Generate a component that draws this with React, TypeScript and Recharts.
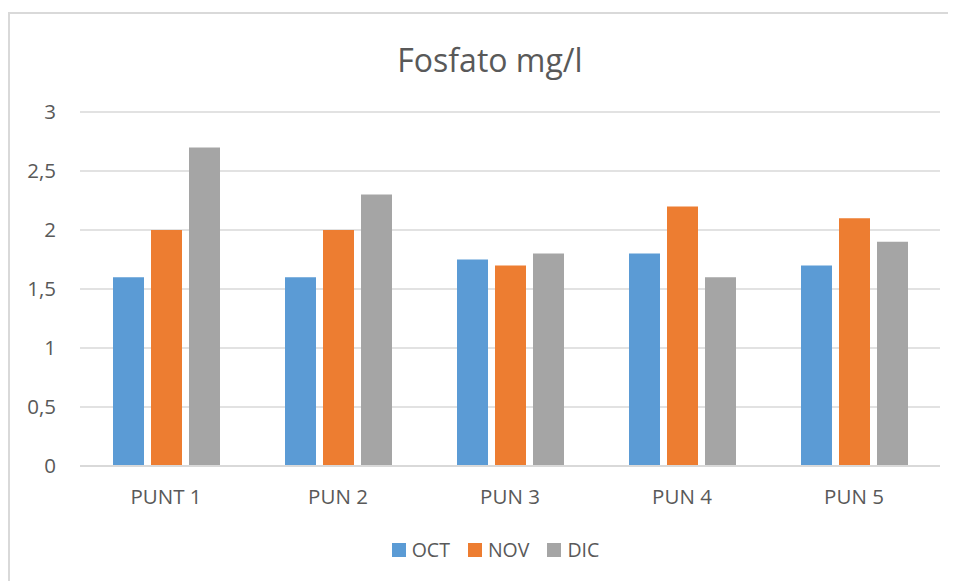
import React, { useLayoutEffect } from 'react';
import { BarChart, Bar, XAxis, YAxis, CartesianGrid, Legend } from 'recharts';

const categories = ['PUNT 1', 'PUN 2', 'PUN 3', 'PUN 4', 'PUN 5'];
const octValues = [1.6, 1.6, 1.75, 1.8, 1.7];
const novValues = [2.0, 2.0, 1.7, 2.2, 2.1];
const dicValues = [2.7, 2.3, 1.8, 1.6, 1.9];
const yTicks = [0, 0.5, 1, 1.5, 2, 2.5, 3];
const seriesNames = ['OCT', 'NOV', 'DIC'];
const seriesColors = ['#5b9bd5', '#ed7d31', '#a5a5a5'];

const data = categories.map((c, i) => ({
  name: c,
  OCT: octValues[i],
  NOV: novValues[i],
  DIC: dicValues[i],
}));

const FONT = '"Open Sans", sans-serif';
const TEXT = '#595959';

const LegendContent = () => (
  <div style={{ display: 'flex', justifyContent: 'center', alignItems: 'center', fontFamily: FONT, fontSize: 19.5, lineHeight: '26px', color: TEXT, paddingLeft: 25 }}>
    {seriesNames.map((n, i) => (
      <div key={n} style={{ display: 'flex', alignItems: 'center', marginRight: i < 2 ? 18 : 0 }}>
        <div style={{ width: 14, height: 14, background: seriesColors[i], marginRight: 6 }} />
        <span>{n}</span>
      </div>
    ))}
  </div>
);

export default function App() {
  useLayoutEffect(() => {
    document.body.style.overflow = 'hidden';
  }, []);
  return (
    <div style={{ marginTop: 4, width: 960, height: 600, borderLeft: '2px solid #d9d9d9', borderTop: '2px solid #d9d9d9', position: 'relative', overflow: 'hidden', background: '#fff' }}>
      <div style={{ position: 'absolute', left: 0, top: 30, width: 960, textAlign: 'center', fontFamily: FONT, fontSize: 32, lineHeight: '32px', color: TEXT }}>
        Fosfato mg/l
      </div>
      <BarChart width={946} height={567} data={data} margin={{ top: 98, right: 16, bottom: 59, left: 0 }} barSize={31} barGap={7}>
        <CartesianGrid vertical={false} stroke="#d9d9d9" strokeWidth={1.5} />
        <XAxis dataKey="name" axisLine={{ stroke: '#d9d9d9', strokeWidth: 2 }} tickLine={false} tickMargin={17} tick={{ fill: TEXT, fontSize: 20.5, fontFamily: FONT }} />
        <YAxis domain={[0, 3]} ticks={yTicks} width={70} axisLine={false} tickLine={false} tickMargin={18} tickFormatter={(v: number) => String(v).replace('.', ',')} tick={{ fill: TEXT, fontSize: 20.5, fontFamily: FONT }} />
        <Legend content={<LegendContent />} wrapperStyle={{ top: 523, left: 0, width: 946 }} />
        {seriesNames.map((n, i) => (
          <Bar key={n} dataKey={n} fill={seriesColors[i]} isAnimationActive={false} />
        ))}
      </BarChart>
    </div>
  );
}
